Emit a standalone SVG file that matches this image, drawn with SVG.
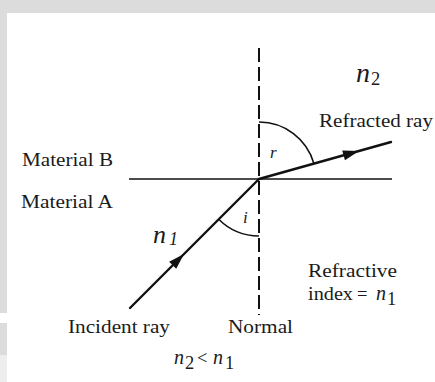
<svg xmlns="http://www.w3.org/2000/svg" width="435" height="382" viewBox="0 0 435 382">
<style>
  .lbl { font-family: "Liberation Serif", "Times New Roman", serif; font-size: 18.5px; fill: #1a1a1a; }
  .it { font-family: "Liberation Serif", "Times New Roman", serif; font-style: italic; fill: #1a1a1a; }
  .ray { stroke: #111; stroke-width: 2.4; fill: none; stroke-linecap: round; }
  .thin { stroke: #111; stroke-width: 1.6; fill: none; }
  .normal { stroke: #111; stroke-width: 2; fill: none; stroke-dasharray: 14 5; }
</style>
<defs>
  <polygon id="head" points="0,0 -16,-5 -16,5" fill="#111"/>
</defs>
<rect x="0" y="0" width="435" height="382" fill="#ffffff"/>
<g id="margin" fill="#dcdcdc">
  <rect x="0" y="0" width="435" height="13"/>
  <rect x="0" y="0" width="7" height="313"/>
  <rect x="0" y="323" width="7" height="32"/>
  <rect x="0" y="355" width="7" height="27" fill="#eeeeee"/>
</g>
<g id="connectors">
  <line id="interface" class="thin" x1="129" y1="179" x2="392" y2="179"/>
  <line id="normal" class="normal" x1="259" y1="48" x2="259" y2="315"/>
  <line id="incident" class="ray" x1="130" y1="308" x2="259" y2="179"/>
  <line id="refracted" class="ray" x1="259" y1="179" x2="391" y2="142"/>
  <use href="#head" transform="translate(184,254) rotate(-45)"/>
  <use href="#head" transform="translate(359,151) rotate(-15.66)"/>
  <path id="arc-r" class="thin" d="M259,122 A57,57 0 0 1 313.9,163.6"/>
  <path id="arc-i" class="thin" d="M218.7,219.3 A57,57 0 0 0 259,236"/>
</g>
<g id="labels">
  <text class="lbl" x="22" y="166" textLength="91" lengthAdjust="spacingAndGlyphs">Material B</text>
  <text class="lbl" x="21" y="208" textLength="92" lengthAdjust="spacingAndGlyphs">Material A</text>
  <text class="lbl" x="319" y="127" textLength="114" lengthAdjust="spacingAndGlyphs">Refracted ray</text>
  <text class="lbl" x="308" y="277" textLength="89" lengthAdjust="spacingAndGlyphs">Refractive</text>
  <text class="lbl" x="308" y="300" textLength="45" lengthAdjust="spacingAndGlyphs">index</text>
  <text class="lbl" x="357" y="300" font-size="17">=</text>
  <text class="it" x="376" y="300" font-size="20">n</text>
  <text class="lbl" x="387" y="305" font-size="14">1</text>
  <text class="lbl" x="68" y="333" textLength="102" lengthAdjust="spacingAndGlyphs">Incident ray</text>
  <text class="lbl" x="228" y="333" textLength="65" lengthAdjust="spacingAndGlyphs">Normal</text>
  <text class="it" x="174" y="364" font-size="20">n</text>
  <text class="lbl" x="185" y="369" font-size="14">2</text>
  <text class="lbl" x="197" y="364" font-size="15">&lt;</text>
  <text class="it" x="213" y="364" font-size="20">n</text>
  <text class="lbl" x="225" y="369" font-size="14">1</text>
  <text class="it" x="356" y="82" font-size="28">n</text>
  <text class="lbl" x="371" y="85" font-size="19">2</text>
  <text class="it" x="153" y="243" font-size="26">n</text>
  <text class="it" x="169" y="245" font-size="18">1</text>
  <text class="it" x="270" y="158" font-size="17">r</text>
  <text class="it" x="243" y="223" font-size="17">i</text>
</g>
</svg>
